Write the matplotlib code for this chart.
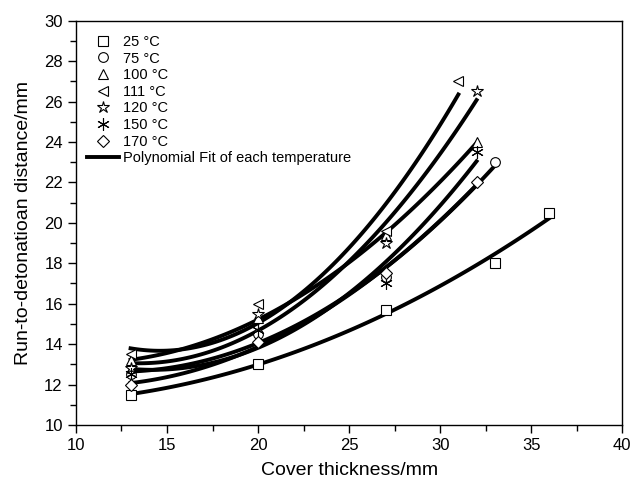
import numpy as np
import matplotlib
matplotlib.use('Agg')
import matplotlib.pyplot as plt
from matplotlib.ticker import MultipleLocator

plt.rcParams['font.family'] = ['Liberation Sans', 'DejaVu Sans']

# data: cover thickness (mm) vs run-to-detonation distance (mm)
labels = ['25 °C', '75 °C', '100 °C', '111 °C', '120 °C', '150 °C', '170 °C']
markers = ['s', 'o', '^', '<', '*', 'x', 'D']

x_25 = [13, 20, 27, 33, 36]
y_25 = [11.5, 13.0, 15.7, 18.0, 20.5]
x_75 = [13, 20, 27, 33]
y_75 = [12.5, 14.5, 17.3, 23.0]
x_100 = [13, 20, 27, 32]
y_100 = [13.2, 15.3, 19.4, 24.0]
x_111 = [13, 20, 27, 31]
y_111 = [13.5, 16.0, 19.6, 27.0]
x_120 = [13, 20, 27, 32]
y_120 = [12.8, 15.5, 19.0, 26.5]
x_150 = [13, 20, 27, 32]
y_150 = [12.5, 14.7, 17.0, 23.5]
x_170 = [13, 20, 27, 32]
y_170 = [12.0, 14.1, 17.5, 22.0]

xs = [x_25, x_75, x_100, x_111, x_120, x_150, x_170]
ys = [y_25, y_75, y_100, y_111, y_120, y_150, y_170]

fig = plt.figure(figsize=(6.33, 4.86), dpi=100)
ax = fig.add_axes([0.120, 0.1255, 0.863, 0.832])

# polynomial (2nd order) fit for each temperature
for x, y in zip(xs, ys):
    c = np.polyfit(x, y, 2)
    xf = np.linspace(min(x), max(x), 100)
    ax.plot(xf, np.polyval(c, xf), color='black', lw=2.8, zorder=2)

for x, y, m, lab in zip(xs, ys, markers, labels):
    if m == 'x':
        ax.plot(x, y, ls='none', marker=(6, 2, 0), ms=9, color='black', mew=0.8,
                label=lab, zorder=3)
    else:
        ms = 9 if m == '*' else 7
        if m == 'D':
            ms = 6
        ax.plot(x, y, ls='none', marker=m, ms=ms, mfc='white', mec='black', mew=0.8,
                label=lab, zorder=3)

ax.plot([], [], color='black', lw=2.8, label='Polynomial Fit of each temperature')

ax.set_xlim(10, 40)
ax.set_ylim(10, 30)
ax.xaxis.set_major_locator(MultipleLocator(5))
ax.xaxis.set_minor_locator(MultipleLocator(2.5))
ax.yaxis.set_major_locator(MultipleLocator(2))
ax.yaxis.set_minor_locator(MultipleLocator(1))
ax.tick_params(which='both', direction='out', labelsize=12, top=False, right=False)
ax.tick_params(which='major', length=6, width=1)
ax.tick_params(which='minor', length=4, width=1)
for s in ax.spines.values():
    s.set_linewidth(1)

ax.set_xlabel('Cover thickness/mm', fontsize=14, labelpad=6)
ax.set_ylabel('Run-to-detonatioan distance/mm', fontsize=14, labelpad=9)

ax.legend(loc='upper left', frameon=False, fontsize=10.5, handlelength=2.2,
          labelspacing=0.18, handletextpad=0.25, borderaxespad=0.3,
          bbox_to_anchor=(0.002, 0.99))

fig.savefig('out.png', dpi=100)
